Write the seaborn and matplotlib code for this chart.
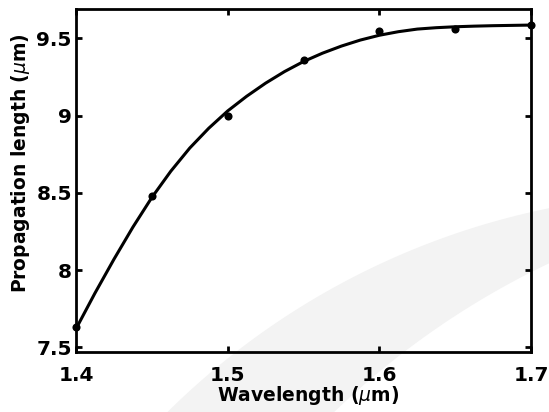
import numpy as np
import pandas as pd
import matplotlib
matplotlib.use("Agg")
import matplotlib.pyplot as plt
from matplotlib.patches import Polygon
import seaborn as sns

# measured points
wavelength = [1.40, 1.45, 1.50, 1.55, 1.60, 1.65, 1.70]
prop_length = [7.635, 8.48, 9.00, 9.36, 9.545, 9.558, 9.585]

# fitted curve
curve_x = [1.4000, 1.4125, 1.4250, 1.4375, 1.4500, 1.4625, 1.4750, 1.4875,
           1.5000, 1.5125, 1.5250, 1.5375, 1.5500, 1.5625, 1.5750, 1.5875,
           1.6000, 1.6125, 1.6250, 1.6375, 1.6500, 1.6625, 1.6750, 1.6875,
           1.7000]
curve_y = [7.620, 7.851, 8.070, 8.278, 8.470, 8.640, 8.790, 8.918,
           9.030, 9.125, 9.210, 9.285, 9.350, 9.404, 9.450, 9.489,
           9.520, 9.543, 9.560, 9.569, 9.575, 9.579, 9.582, 9.584,
           9.586]

x_ticks = [1.4, 1.5, 1.6, 1.7]
x_ticklabels = ["1.4", "1.5", "1.6", "1.7"]
y_ticks = [7.5, 8.0, 8.5, 9.0, 9.5]
y_ticklabels = ["7.5", "8", "8.5", "9", "9.5"]

sns.set_theme(style="ticks")
plt.rcParams['font.family'] = ['DejaVu Sans']
plt.rcParams['mathtext.fontset'] = 'dejavusans'

fig = plt.figure(figsize=(5.49, 4.12), dpi=100)

# faint watermark arc band in the background (decoration)
bg = fig.add_axes([0, 0, 1, 1], zorder=0)
bg.set_xlim(0, 549)
bg.set_ylim(412, 0)
bg.axis('off')
t1 = np.linspace(np.deg2rad(180), np.deg2rad(300), 200)
outer = np.column_stack([700 + 757 * np.cos(t1), 950 + 757 * np.sin(t1)])
t2 = np.linspace(np.deg2rad(300), np.deg2rad(180), 200)
inner = np.column_stack([900 + 816 * np.cos(t2), 1000 + 816 * np.sin(t2)])
bg.add_patch(Polygon(np.vstack([outer, inner]), closed=True,
                     facecolor='#f3f3f3', edgecolor='none'))

ax = fig.add_axes([76/549, 60/412, (531-76)/549, (352-9)/412], zorder=1)
ax.set_facecolor('none')

df_pts = pd.DataFrame({"x": wavelength, "y": prop_length})
df_curve = pd.DataFrame({"x": curve_x, "y": curve_y})

sns.lineplot(data=df_curve, x="x", y="y", ax=ax, color='black',
             linewidth=2.2, sort=True, zorder=3)
sns.scatterplot(data=df_pts, x="x", y="y", ax=ax, color='black',
                s=34, edgecolor='black', linewidth=0, zorder=4, clip_on=False)

ax.set_xlim(1.4, 1.7)
ax.set_ylim(7.47, 9.69)
ax.set_xticks(x_ticks)
ax.set_xticklabels(x_ticklabels)
ax.set_yticks(y_ticks)
ax.set_yticklabels(y_ticklabels)

for s in ax.spines.values():
    s.set_linewidth(2.0)
    s.set_color('black')
    s.set_visible(True)

ax.tick_params(direction='in', length=4, width=2.0, top=True, right=True,
               labelsize=14.5, colors='black')
ax.tick_params(axis='x', pad=10)
ax.tick_params(axis='y', pad=3)
for lbl in ax.get_xticklabels() + ax.get_yticklabels():
    lbl.set_fontweight('bold')

ax.set_xlabel(r"Wavelength ($\mu$m)", fontsize=13.5, fontweight='bold', color='black')
ax.set_ylabel(r"Propagation length ($\mu$m)", fontsize=13.5, fontweight='bold', color='black')
ax.xaxis.set_label_coords(0.51, -0.092)
ax.yaxis.set_label_coords(-0.097, 0.551)

fig.savefig("out.png", dpi=100)
